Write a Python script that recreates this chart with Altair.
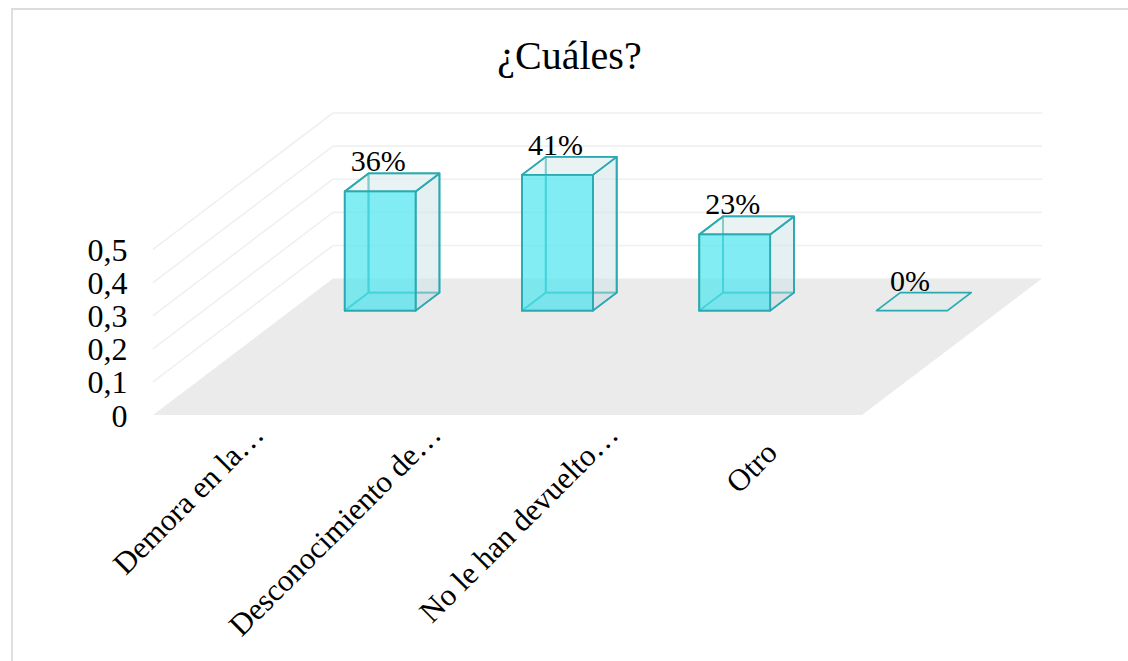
import altair as alt
import pandas as pd

categories = ["Demora en la…", "Desconocimiento de…", "No le han devuelto…", "Otro"]
values = [0.36, 0.41, 0.23, 0.0]
value_ticks = [0, 0.1, 0.2, 0.3, 0.4, 0.5]
title_text = "¿Cuáles?"

# Oblique projection: one unit of depth shifts a point right and up,
# expressed in category units and value units respectively.
DEPTH_X = 1.0155
DEPTH_Y = 0.412
BAR_START = 0.305
BAR_END = 0.705
DEPTH_NEAR = 0.765
DEPTH_FAR = 0.897

FONT = "Liberation Serif"
EDGE = "#2aaab0"


def sx(cat, depth):
    return cat + depth * DEPTH_X


def sy(val, depth):
    return val + depth * DEPTH_Y


# Faces with vertical edges: two points, each spanning y..y2
upright = []
# Faces with horizontal edges: two points, each spanning x..x2
flat = []


def add_upright(kind, key, corners):
    for cat, depth, val in corners:
        upright.append(dict(kind=kind, key=key, x=sx(cat, depth), y=sy(val, depth), y2=sy(0, depth)))


def add_flat(kind, key, c0, c1, val):
    for depth in (DEPTH_NEAR, DEPTH_FAR):
        flat.append(dict(kind=kind, key=key, x=sx(c0, depth), x2=sx(c1, depth), y=sy(val, depth)))


for i, v in enumerate(values):
    c0, c1 = i + BAR_START, i + BAR_END
    if v > 0:
        add_upright("back", f"b{i}", [(c0, DEPTH_FAR, v), (c1, DEPTH_FAR, v)])
        add_upright("left", f"l{i}", [(c0, DEPTH_NEAR, v), (c0, DEPTH_FAR, v)])
        add_upright("side", f"s{i}", [(c1, DEPTH_NEAR, v), (c1, DEPTH_FAR, v)])
        add_upright("front", f"f{i}", [(c0, DEPTH_NEAR, v), (c1, DEPTH_NEAR, v)])
        add_flat("bottom", f"u{i}", c0, c1, 0)
    add_flat("top", f"t{i}", c0, c1, v)

upright_df = pd.DataFrame(upright)
flat_df = pd.DataFrame(flat)

n = len(categories)
floor_df = pd.DataFrame([
    dict(x=sx(0, 0), x2=sx(n, 0), y=sy(0, 0)),
    dict(x=sx(0, 1), x2=sx(n, 1), y=sy(0, 1)),
])

# Gridlines run along the left wall, then across the back wall
grid_rows = []
for t in value_ticks[1:]:
    for order, (cat, depth) in enumerate([(0, 0), (0, 1), (n, 1)]):
        grid_rows.append(dict(tick=t, order=order, x=sx(cat, depth), y=sy(t, depth)))
grid_df = pd.DataFrame(grid_rows)

x_scale = alt.Scale(domain=[0, n + DEPTH_X], nice=False, zero=False)
y_scale = alt.Scale(domain=[0, 0.5 + DEPTH_Y], nice=False, zero=False)
value_axis = alt.Axis(
    values=value_ticks,
    orient="left",
    title=None,
    grid=False,
    domain=False,
    ticks=False,
    labelFont=FONT,
    labelFontSize=32,
    labelColor="#000000",
    labelPadding=26,
    labelOffset=1,
    labelExpr="replace(datum.label, '.', ',')",
    format="~g",
)
X = alt.X("x:Q", scale=x_scale, axis=None)
X2 = alt.X2("x2:Q")
Y = alt.Y("y:Q", scale=y_scale, axis=value_axis)
Y2 = alt.Y2("y2:Q")

floor = alt.Chart(floor_df).mark_area(orient="horizontal", color="#ebebeb").encode(x=X, x2=X2, y=Y)

grid = alt.Chart(grid_df).mark_line(color="#f0f0f0", strokeWidth=1.6, strokeJoin="round").encode(
    x=X, y=Y, detail="tick:N", order="order:Q"
)


def upright_layer(kind, **mark):
    return (
        alt.Chart(upright_df)
        .transform_filter(alt.datum.kind == kind)
        .mark_area(orient="vertical", **mark)
        .encode(x=X, y=Y, y2=Y2, detail="key:N")
    )


def flat_layer(kind, **mark):
    return (
        alt.Chart(flat_df)
        .transform_filter(alt.datum.kind == kind)
        .mark_area(orient="horizontal", **mark)
        .encode(x=X, x2=X2, y=Y, detail="key:N")
    )


outline = dict(stroke=EDGE, strokeWidth=1.8, strokeJoin="round")
back = upright_layer("back", fill="#dfeef0", fillOpacity=0.25, **outline)
left = upright_layer("left", fill="#ffffff", fillOpacity=0, **outline)
bottom = flat_layer("bottom", fill="#b8cdd0", fillOpacity=0.3, **outline)
side = upright_layer("side", fill="#cfe2e6", fillOpacity=0.45, **outline)
top = flat_layer("top", fill="#dcebec", fillOpacity=0.5, **outline)
front = upright_layer("front", fill="#4fe6f0", fillOpacity=0.7, **outline)

label_df = pd.DataFrame({
    "x": [sx(i + (BAR_START + BAR_END) / 2, DEPTH_NEAR) for i in range(n)],
    "y": [sy(v, DEPTH_NEAR) for v in values],
    "label": [f"{round(v * 100)}%" for v in values],
})
labels = alt.Chart(label_df).mark_text(
    font=FONT, fontSize=30, color="#000000", baseline="middle", align="center", dx=-2, dy=-29
).encode(x=X, y=Y, text="label:N")

cat_df = pd.DataFrame({"x": [i + 0.5 for i in range(n)], "y": [0] * n, "label": categories})
long_style = dict(font=FONT, fontSize=31, color="#000000", align="right", baseline="middle", angle=315)
cat_labels = (
    alt.Chart(cat_df)
    .transform_filter(alt.datum.label != categories[-1])
    .mark_text(dx=2, dy=23, **long_style)
    .encode(x=X, y=Y, text="label:N")
)
# The short final label sits closer to the floor's corner than the truncated ones
last_label = (
    alt.Chart(cat_df)
    .transform_filter(alt.datum.label == categories[-1])
    .mark_text(dx=-24, dy=23, **long_style)
    .encode(x=X, y=Y, text="label:N")
)

# Card border: only its top and left edges fall inside the canvas
frame_top = alt.Chart(pd.DataFrame({"a": [0]})).mark_rule(color="#dcdcdc", strokeWidth=2).encode(
    x=alt.value(-142), x2=alt.value(975), y=alt.value(-104)
)
frame_left = alt.Chart(pd.DataFrame({"a": [0]})).mark_rule(color="#dfdfdf", strokeWidth=2).encode(
    x=alt.value(-141), y=alt.value(-104), y2=alt.value(548)
)

chart = (
    alt.layer(
        frame_top, frame_left, floor, grid, back, left, bottom, side, top, front, labels, cat_labels, last_label
    )
    .properties(
        width=889,
        height=302,
        padding={"left": 153, "top": 113, "right": 86, "bottom": 246},
        autosize=alt.AutoSizeParams(type="none"),
        background="#ffffff",
        title=alt.TitleParams(
            title_text, font=FONT, fontSize=40, fontWeight="normal", color="#000000",
            anchor="middle", dx=-28, offset=-109, baseline="bottom",
        ),
    )
    .configure_view(stroke=None)
)

chart.save("out.html", embed_options={"renderer": "svg", "actions": False})
